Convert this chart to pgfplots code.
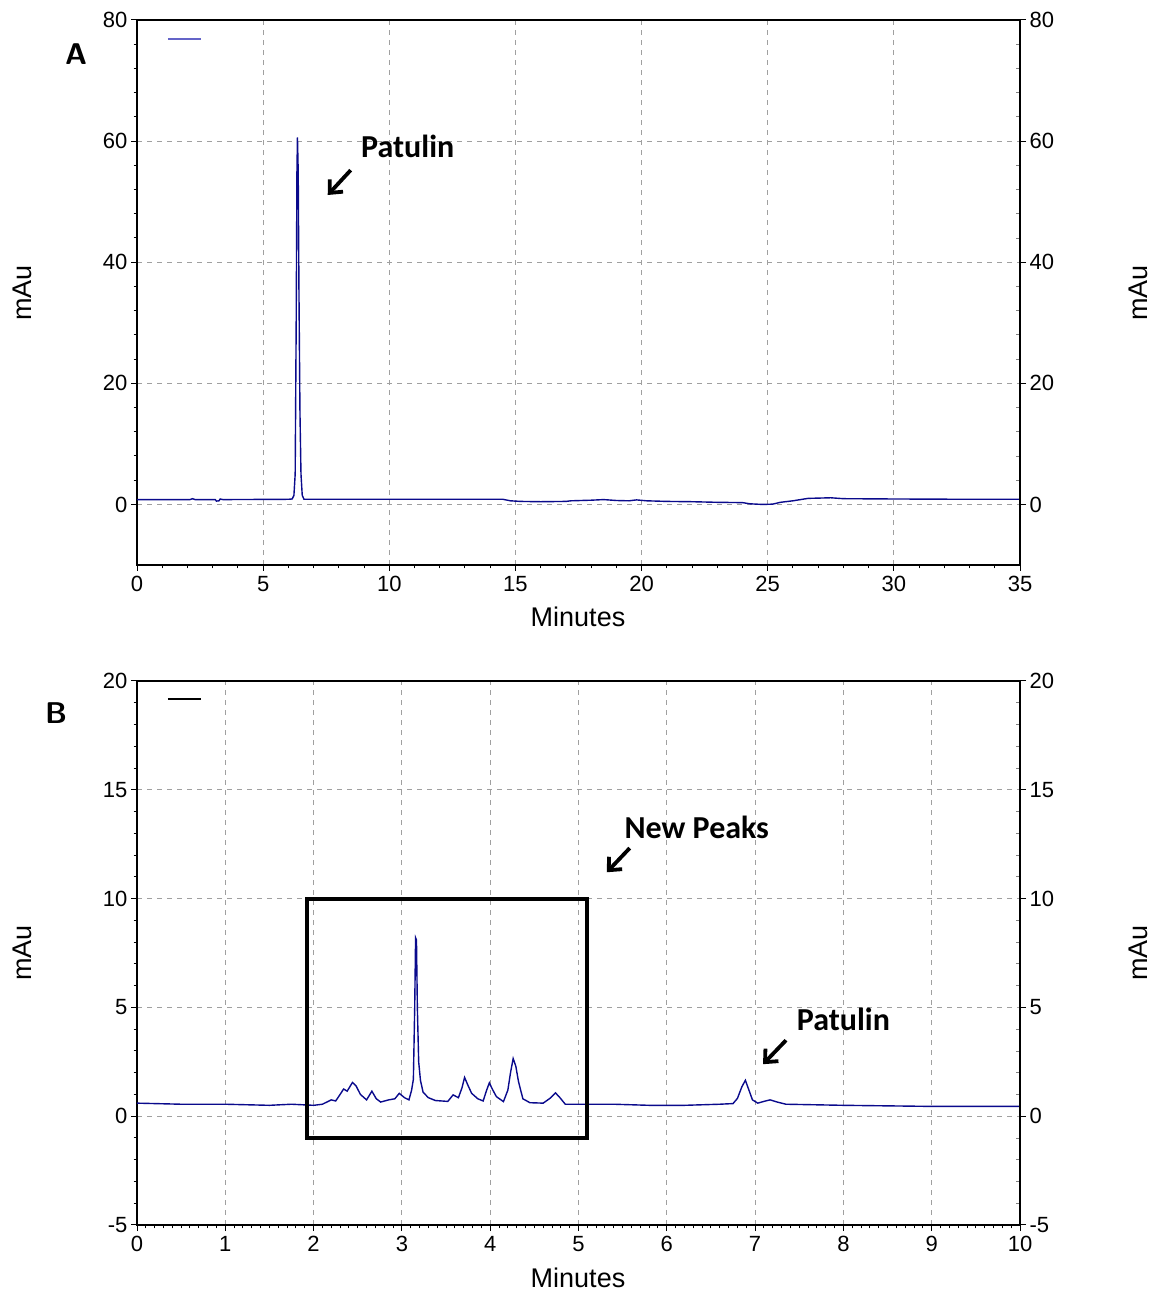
\documentclass[border=0pt]{standalone}
\usepackage{pgfplots}
\pgfplotsset{compat=1.18}
\usepackage{fontspec}
\setmainfont{Liberation Sans}
\newfontfamily\carlito{Carlito}
\usetikzlibrary{arrows.meta}

\definecolor{trace}{RGB}{10,10,140}
\definecolor{gridgray}{RGB}{160,160,160}

\pgfplotsset{
  chrom/.style={
    scale only axis, width=883pt,
    tick align=outside,
    major tick length=6pt, minor tick length=3.5pt,
    xtick pos=left, ytick pos=left,
    grid=major,
    grid style={gridgray, line width=0.9pt, dash pattern=on 5pt off 5pt},
    axis line style={line width=1.1pt},
    every tick/.style={black, line width=1pt},
    tick label style={font=\fontsize{22}{22}\selectfont},
    xticklabel style={yshift=-2pt},
    /pgf/number format/assume math mode=true,
    clip=false,
  },
  rightaxis/.style={
    scale only axis, width=883pt,
    axis x line=none, axis y line*=right,
    tick align=outside,
    major tick length=6pt, minor tick length=-4pt,
    axis line style={line width=1.1pt},
    every tick/.style={black, line width=1pt},
    minor tick style={gray, line width=0.8pt},
    tick label style={font=\fontsize{22}{22}\selectfont},
    /pgf/number format/assume math mode=true,
  },
}
\tikzset{
  note/.style={font=\carlito\bfseries\fontsize{32}{32}\selectfont},
  pointer/.style={line width=3.8pt, -{Straight Barb[length=10pt,width=18pt]}},
}

\begin{document}
\begin{tikzpicture}[x=1pt,y=1pt]
\path[use as bounding box] (0,0) rectangle (1152,1291);

% ---------------- Panel A ----------------
\begin{axis}[chrom, height=545pt, at={(137pt,726pt)}, anchor=south west,
  xmin=0, xmax=35, ymin=-10, ymax=80,
  xtick={0,5,...,35}, ytick={0,20,...,80},
  minor x tick num=4, minor y tick num=4]
\addplot[trace, line width=1.4pt] coordinates {
(0,0.8) (2.1,0.8) (2.2,0.95) (2.3,0.8) (3.1,0.8) (3.15,0.55) (3.25,0.6) (3.3,0.9) (3.4,0.8)
(6.0,0.85) (6.15,0.9) (6.22,1.5) (6.27,5) (6.31,30) (6.34,55) (6.36,60.6) (6.39,55)
(6.42,35) (6.46,15) (6.5,5) (6.55,1.5) (6.62,0.85) (14.5,0.85) (14.8,0.6) (15.2,0.5)
(16,0.45) (17,0.5) (17.2,0.6) (18,0.7) (18.5,0.8) (19,0.65) (19.5,0.6) (19.8,0.75)
(20.2,0.6) (21,0.5) (22,0.45) (23,0.35) (24,0.3) (24.3,0.1) (24.8,0.0) (25.2,0.05)
(25.5,0.35) (26,0.6) (26.6,1.0) (27.5,1.1) (28,0.95) (30,0.9) (33,0.85) (35,0.85)};
\draw[color={rgb,255:red,100;green,100;blue,200}, line width=1.3pt]
  (rel axis cs:0.035,0.965) -- (rel axis cs:0.0725,0.965);
\node[note] at (axis cs:10.73,59.1) {Patulin};
\draw[pointer] (axis cs:8.47,55.2) -- (axis cs:7.56,51.1);
\end{axis}
\begin{axis}[rightaxis, height=545pt, at={(137pt,726pt)}, anchor=south west,
  xmin=0, xmax=35, ymin=-10, ymax=80, ytick={0,20,...,80}, minor y tick num=4]
\end{axis}

% ---------------- Panel B ----------------
\begin{axis}[chrom, height=544pt, at={(137pt,66pt)}, anchor=south west,
  xmin=0, xmax=10, ymin=-5, ymax=20,
  xtick={0,1,...,10}, ytick={-5,0,...,20},
  minor x tick num=9, minor y tick num=4]
\addplot[trace, line width=1.4pt] coordinates {
(0,0.6) (0.5,0.55) (1,0.55) (1.5,0.5) (1.75,0.55) (2.0,0.5) (2.1,0.55) (2.2,0.75)
(2.25,0.7) (2.3,1.0) (2.34,1.25) (2.38,1.15) (2.44,1.55) (2.48,1.4) (2.53,1.0) (2.6,0.75)
(2.66,1.15) (2.71,0.8) (2.76,0.65) (2.85,0.75) (2.92,0.8) (2.97,1.05) (3.03,0.85)
(3.08,0.75) (3.11,1.2) (3.13,1.7) (3.145,5) (3.155,8.2) (3.165,8.1) (3.175,5) (3.19,2.5)
(3.21,1.65) (3.24,1.1) (3.3,0.85) (3.38,0.72) (3.52,0.68) (3.58,0.98) (3.64,0.85)
(3.68,1.3) (3.71,1.78) (3.75,1.4) (3.79,1.05) (3.86,0.8) (3.92,0.7) (3.96,1.2) (3.99,1.53)
(4.03,1.2) (4.07,0.9) (4.15,0.67) (4.2,1.2) (4.23,2.0) (4.26,2.65) (4.29,2.3) (4.32,1.6)
(4.37,0.8) (4.45,0.62) (4.6,0.6) (4.68,0.83) (4.74,1.07) (4.79,0.85) (4.85,0.55) (5.0,0.55)
(5.4,0.55) (5.8,0.5) (6.2,0.5) (6.6,0.55) (6.75,0.58) (6.8,0.82) (6.85,1.35) (6.89,1.65)
(6.93,1.2) (6.97,0.75) (7.03,0.6) (7.1,0.68) (7.17,0.75) (7.25,0.65) (7.35,0.55) (8,0.5)
(9,0.45) (10,0.45)};
\draw[black, line width=1.3pt]
  (rel axis cs:0.035,0.967) -- (rel axis cs:0.0725,0.967);
\draw[black, line width=4pt] (axis cs:1.93,-1) rectangle (axis cs:5.1,10);
\node[note] at (axis cs:6.34,13.28) {New Peaks};
\draw[pointer] (axis cs:5.58,12.32) -- (axis cs:5.32,11.21);
\node[note] at (axis cs:8.0,4.46) {Patulin};
\draw[pointer] (axis cs:7.35,3.49) -- (axis cs:7.09,2.39);
\end{axis}
\begin{axis}[rightaxis, height=544pt, at={(137pt,66pt)}, anchor=south west,
  xmin=0, xmax=10, ymin=-5, ymax=20, ytick={-5,0,...,20}, minor y tick num=4]
\end{axis}

% ---------------- labels ----------------
\begin{scope}[every node/.style={font=\fontsize{27}{27}\selectfont}]
\node[rotate=90] at (22,998) {mAu};
\node[rotate=90] at (1138,998) {mAu};
\node[rotate=90] at (22,338) {mAu};
\node[rotate=90] at (1138,338) {mAu};
\node at (578,674) {Minutes};
\node at (578,13) {Minutes};
\end{scope}
\node[font=\sffamily\bfseries\fontsize{30}{30}\selectfont] at (76,1237) {A};
\node[font=\sffamily\bfseries\fontsize{30}{30}\selectfont] at (56,578) {B};
\end{tikzpicture}
\end{document}
